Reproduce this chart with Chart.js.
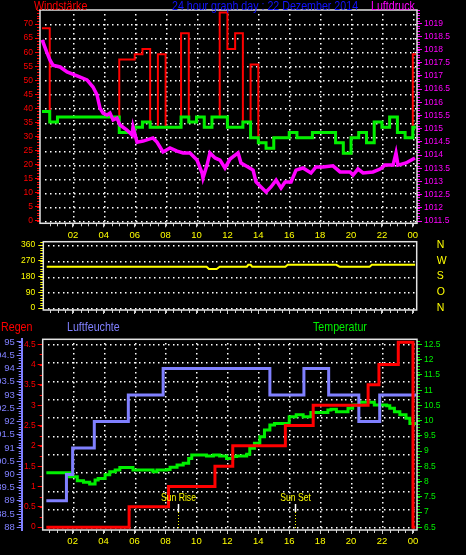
<!DOCTYPE html>
<html>
<head>
<meta charset="utf-8">
<title>24 hour graph day : 22 Dezember 2014</title>
<script src="https://cdn.jsdelivr.net/npm/chart.js@4.4.1/dist/chart.umd.min.js"></script>
<style>
  html, body { margin: 0; padding: 0; background: #000; }
  #wrap { position: relative; width: 466px; height: 555px; overflow: hidden; background: #000; }
  #wrap canvas { position: absolute; left: 0; }
</style>
</head>
<body>
<div id="wrap">
  <canvas id="windChart" width="466" height="245" style="top:0px"></canvas>
  <canvas id="dirChart" width="466" height="90" style="top:230px"></canvas>
  <canvas id="climateChart" width="466" height="240" style="top:315px"></canvas>
</div>
<script>
// --- data (hours of the day, 0 = midnight) ---
const slotHours = Array.from({ length: 49 }, (_, i) => i / 2);   // half-hour slots
const SERIES_END = 24.2;

// wind, km/h (average and gusts per half hour)
const windAvg = [38.9, 35.2, 37.0, 37.0, 37.0, 37.0, 37.0, 37.0, 37.0, 37.0,
                 31.5, 31.5, 33.3, 35.2, 33.3, 33.3, 33.3, 33.3, 37.0, 35.2,
                 37.0, 33.3, 37.0, 37.0, 33.3, 33.3, 35.2, 29.6, 27.8, 25.9,
                 29.6, 29.6, 31.5, 29.6, 29.6, 31.5, 31.5, 31.5, 27.8, 24.1,
                 29.6, 31.5, 27.8, 35.2, 33.3, 37.0, 31.5, 29.6, 33.3];
const windGust = [68.5, 35.2, 37.0, 37.0, 37.0, 37.0, 37.0, 37.0, 37.0, 37.0,
                  57.4, 57.4, 59.3, 61.1, 33.3, 59.3, 33.3, 33.3, 66.7, 35.2,
                  37.0, 33.3, 37.0, 74.1, 61.1, 66.7, 35.2, 55.6, 27.8, 25.9,
                  29.6, 29.6, 31.5, 29.6, 29.6, 31.5, 31.5, 31.5, 27.8, 24.1,
                  29.6, 31.5, 27.8, 35.2, 33.3, 37.0, 31.5, 29.6, 59.3];

// pressure, hPa
const pressureHours = [0, 0.06, 0.3, 0.52, 0.71, 1.17, 1.62, 2.27, 2.91, 3.3,
                       3.56, 3.75, 3.95, 4.21, 4.4, 4.6, 4.85, 5.05, 5.5, 5.83,
                       5.89, 6.15, 6.54, 7.18, 7.44, 7.83, 8.28, 8.74, 9.13, 9.58,
                       10.03, 10.36, 10.42, 10.68, 10.87, 11.2, 11.52, 11.84, 12.17, 12.69,
                       12.88, 13.33, 13.66, 13.85, 14.11, 14.5, 14.82, 15.15, 15.47, 15.73,
                       16.12, 16.44, 16.89, 17.41, 17.73, 18.19, 18.83, 19.29, 19.94, 20.13,
                       20.45, 20.78, 21.42, 21.88, 22.2, 22.72, 22.91, 23.04, 23.56, 24.14];
const pressureValues = [1018.36, 1018.29, 1017.91, 1017.6, 1017.41, 1017.34, 1017.15, 1017.0, 1016.85, 1016.58,
                        1016.28, 1015.78, 1015.59, 1015.52, 1015.59, 1015.33, 1015.4, 1015.14, 1014.95, 1014.76,
                        1015.06, 1014.49, 1014.53, 1014.65, 1014.49, 1014.12, 1014.27, 1014.15, 1014.08, 1014.08,
                        1013.81, 1013.32, 1013.13, 1013.62, 1014.08, 1013.89, 1013.81, 1013.51, 1013.85, 1014.08,
                        1013.7, 1013.55, 1013.43, 1012.98, 1012.83, 1012.6, 1012.79, 1013.05, 1012.75, 1012.98,
                        1012.98, 1013.43, 1013.51, 1013.32, 1013.55, 1013.55, 1013.59, 1013.36, 1013.36, 1013.24,
                        1013.47, 1013.32, 1013.36, 1013.47, 1013.62, 1013.62, 1014.08, 1013.62, 1013.7, 1013.89];

// wind direction, degrees
const dirHours = [0.3, 10.65, 10.8, 11.3, 11.5, 13.25, 13.35, 13.5, 13.6, 15.75, 15.9, 19.05, 19.25, 21.2, 21.35, 24.15];
const dirValues = [236, 236, 223, 223, 236, 236, 247, 247, 236, 236, 247, 247, 236, 236, 247, 247];

// humidity %, rain mm, temperature °C
const humidityHours = [0.3, 1.6, 2.0, 3.4, 5.6, 7.85, 14.75, 16.95, 18.55, 20.5, 21.85, 24.2];
const humidityValues = [89, 90, 91, 92, 93, 94, 93, 94, 93, 92, 93, 93];
const rainHours = [0.3, 5.65, 8.2, 11.2, 12.35, 15.75, 17.55, 21.1, 21.8, 23.05, 24.0, 24.15];
const rainValues = [0, 0.5, 1.0, 1.5, 2.0, 2.5, 3.0, 3.5, 4.0, 4.55, 0, 0];
const tempHours = [0.3, 1.8, 2.3, 2.7, 3.1, 3.45, 3.65, 4.1, 4.4, 4.75,
                   5.05, 5.9, 7.2, 7.45, 8.1, 8.3, 8.75, 9.15, 9.5, 9.7,
                   10.65, 11.1, 11.5, 11.95, 12.35, 12.6, 13.25, 13.45, 13.75, 14.1,
                   14.4, 14.75, 15.05, 16.0, 16.45, 16.9, 17.4, 18.5, 18.7, 19.05,
                   19.8, 20.1, 20.55, 21.5, 22.3, 22.5, 22.8, 23.15, 23.55, 23.8, 24.2];
const tempValues = [8.29, 8.16, 8.03, 7.98, 7.92, 8.05, 8.1, 8.22, 8.32, 8.38,
                    8.46, 8.38, 8.32, 8.38, 8.4, 8.47, 8.54, 8.6, 8.76, 8.87,
                    8.84, 8.87, 8.84, 8.76, 8.82, 8.84, 8.9, 9.09, 9.26, 9.47,
                    9.69, 9.86, 9.91, 10.13, 10.19, 10.13, 10.27, 10.35, 10.37, 10.29,
                    10.41, 10.51, 10.6, 10.51, 10.49, 10.41, 10.29, 10.19, 10.08, 9.91, 9.91];
const sunHours = [8.78, 16.38];
const sunLabels = ['Sun Rise', 'Sun Set'];

// tick labels
const hourTicks = [2, 4, 6, 8, 10, 12, 14, 16, 18, 20, 22, 24];
const hourLabels = ['02', '04', '06', '08', '10', '12', '14', '16', '18', '20', '22', '00'];
const windTicks = [0, 5, 10, 15, 20, 25, 30, 35, 40, 45, 50, 55, 60, 65, 70];
const pressureTicks = [1011.5, 1012, 1012.5, 1013, 1013.5, 1014, 1014.5, 1015, 1015.5,
                       1016, 1016.5, 1017, 1017.5, 1018, 1018.5, 1019];
const dirTicks = [0, 90, 180, 270, 360];
const compassLabels = ['N', 'O', 'S', 'W', 'N'];
const humidityTicks = [88, 88.5, 89, 89.5, 90, 90.5, 91, 91.5, 92, 92.5, 93, 93.5, 94, 94.5, 95];
const rainTicks = [0, 0.5, 1, 1.5, 2, 2.5, 3, 3.5, 4, 4.5];
const tempTicks = [6.5, 7, 7.5, 8, 8.5, 9, 9.5, 10, 10.5, 11, 11.5, 12, 12.5];

// --- style ---
const RED = '#ff0000', GREEN = '#00f000', MAGENTA = '#ff00ff', BLUE = '#1414ff',
      LAVENDER = '#8080ff', YELLOW = '#ffff00', FRAME = '#e2e2e2', DOT = '#ffffff';
const SANS = '"Liberation Sans", Arial, sans-serif';
const tickFont = { family: SANS, size: 8.5 };

function points(xs, ys, end) {
  const pts = xs.map((x, i) => ({ x, y: ys[i] }));
  if (end !== undefined) pts.push({ x: end, y: ys[ys.length - 1] });
  return pts;
}

// fixed axis size, no extra room for overhanging labels
function fixSize(s, key, size) {
  s[key] = size;
  s.paddingTop = s.paddingBottom = s.paddingLeft = s.paddingRight = 0;
}

function valueAxis(position, min, max, tickValues, color, width, opts = {}) {
  return {
    type: 'linear', position, min, max,
    weight: opts.weight || 0,
    afterBuildTicks: s => { s.ticks = tickValues.map(v => ({ value: v })); },
    afterFit: s => fixSize(s, 'width', width),
    ticks: {
      color, font: opts.font || tickFont, padding: opts.padding ?? 2, autoSkip: false,
      callback: opts.labels ? (v, i) => opts.labels[i] : v => String(v)
    },
    grid: { drawOnChartArea: false, drawTicks: !opts.noTicks, tickLength: 5, tickColor: color, tickWidth: 1 },
    border: { display: !!opts.border, color, width: 2 }
  };
}

function hourAxis(min, max, height, showLabels) {
  return {
    type: 'linear', position: 'bottom', min, max,
    afterBuildTicks: s => { s.ticks = hourTicks.map(v => ({ value: v })); },
    afterFit: s => fixSize(s, 'height', height),
    ticks: {
      display: showLabels, color: YELLOW, font: { family: SANS, size: 9.5 },
      padding: 2, autoSkip: false, maxRotation: 0, callback: (v, i) => hourLabels[i]
    },
    grid: { drawOnChartArea: false, tickLength: 4, tickColor: '#d0d0d0' },
    border: { display: false }
  };
}

// dotted grid, minor ticks and the white frame of each panel
const panelPlugin = {
  id: 'panel',
  beforeDatasetsDraw(chart, args, o) {
    const { ctx, chartArea: a, scales } = chart;
    ctx.save();
    ctx.fillStyle = DOT;
    const rowScale = scales[o.rowAxis];
    o.rows.forEach(v => {
      const y = Math.round(rowScale.getPixelForValue(v));
      for (let x = a.left + 5; x < a.right - 2; x += 4.8) ctx.fillRect(Math.round(x), y, 1.5, 1.5);
    });
    if (o.cols) {
      o.cols.forEach(h => {
        const x = Math.round(scales.x.getPixelForValue(h));
        for (let y = a.top + 4; y < a.bottom - 2; y += 4.8) ctx.fillRect(x, Math.round(y), 1.5, 1.5);
      });
    }
    ctx.lineWidth = 1;
    o.minor.forEach(m => {
      const s = scales[m.axis];
      const left = s.position === 'left';
      const edge = left ? s.right : s.left;
      ctx.strokeStyle = m.color;
      ctx.beginPath();
      const n = Math.round((m.to - m.from) / m.step);
      for (let i = 0; i <= n; i++) {
        const y = Math.round(s.getPixelForValue(m.from + i * m.step)) + 0.5;
        if (y < a.top - 1 || y > a.bottom + 1) continue;
        ctx.moveTo(edge, y);
        ctx.lineTo(edge + (left ? -3 : 3), y);
      }
      ctx.stroke();
    });
    // half-hour ticks under the time axis
    ctx.strokeStyle = '#d0d0d0';
    ctx.beginPath();
    for (let i = 1; i <= 48; i++) {
      const x = Math.round(scales.x.getPixelForValue(i / 2)) + 0.5;
      ctx.moveTo(x, a.bottom);
      ctx.lineTo(x, a.bottom + 3);
    }
    ctx.stroke();
    ctx.strokeStyle = FRAME;
    ctx.lineWidth = 1.5;
    ctx.strokeRect(a.left, a.top, a.right - a.left, a.bottom - a.top);
    ctx.restore();
  }
};

// narrow caption text (the original uses a condensed face)
function narrowText(ctx, text, x, y, size, align) {
  ctx.save();
  ctx.font = size + 'px ' + SANS;
  ctx.textAlign = align || 'left';
  ctx.translate(x, y);
  ctx.scale(0.82, 1);
  ctx.fillText(text, 0, 0);
  ctx.restore();
}

const captionPlugin = {
  id: 'captions',
  afterDraw(chart, args, o) {
    const ctx = chart.ctx;
    o.items.forEach(it => {
      ctx.fillStyle = it.color;
      narrowText(ctx, it.text, it.x, it.y, 13);
    });
  }
};

const sunPlugin = {
  id: 'sunMarks',
  afterDatasetsDraw(chart) {
    const { ctx, chartArea: a, scales: { x } } = chart;
    ctx.save();
    sunHours.forEach((h, i) => {
      const px = Math.round(x.getPixelForValue(h)) + 0.5;
      ctx.fillStyle = YELLOW;
      narrowText(ctx, sunLabels[i], px, a.bottom - 29, 10.5, 'center');
      ctx.strokeStyle = '#ffffff';
      ctx.lineWidth = 1.5;
      ctx.beginPath(); ctx.moveTo(px, a.bottom - 26); ctx.lineTo(px, a.bottom - 18); ctx.stroke();
      ctx.strokeStyle = YELLOW;
      ctx.lineWidth = 1;
      ctx.setLineDash([1, 2]);
      ctx.beginPath(); ctx.moveTo(px, a.bottom - 18); ctx.lineTo(px, a.bottom); ctx.stroke();
      ctx.setLineDash([]);
    });
    ctx.restore();
  }
};

const common = {
  responsive: false,
  animation: false,
  events: [],
  elements: { point: { radius: 0 }, line: { tension: 0 } }
};
const quiet = { legend: { display: false }, tooltip: { enabled: false } };

// 1. wind speed and pressure
new Chart(document.getElementById('windChart'), {
  type: 'line',
  data: {
    datasets: [
      { data: points(pressureHours, pressureValues), yAxisID: 'press', borderColor: MAGENTA, borderWidth: 3.5, order: 1 },
      { data: points(slotHours, windAvg, SERIES_END), yAxisID: 'wind', borderColor: GREEN, borderWidth: 3, stepped: true, order: 2 },
      { data: points(slotHours, windGust, SERIES_END), yAxisID: 'wind', borderColor: RED, borderWidth: 2, stepped: true, order: 3 }
    ]
  },
  options: {
    ...common,
    layout: { padding: { top: 10, left: 0, right: 0, bottom: 0 } },
    scales: {
      x: hourAxis(-0.13, 24.27, 21.7, true),
      wind: valueAxis('left', -0.82, 75, windTicks, RED, 40),
      press: valueAxis('right', 1011.413, 1019.5, pressureTicks, MAGENTA, 49)
    },
    plugins: {
      ...quiet,
      panel: {
        rowAxis: 'wind', rows: windTicks, cols: hourTicks,
        minor: [
          { axis: 'wind', from: 0, to: 75, step: 1, color: RED },
          { axis: 'press', from: 1011.5, to: 1019.5, step: 0.1, color: MAGENTA }
        ]
      },
      captions: {
        items: [
          { text: 'Windstärke', x: 34, y: 10, color: RED },
          { text: '24 hour graph day : 22 Dezember 2014', x: 172, y: 10, color: BLUE },
          { text: 'Luftdruck', x: 371, y: 10, color: MAGENTA }
        ]
      }
    }
  },
  plugins: [panelPlugin, captionPlugin]
});

// 2. wind direction
new Chart(document.getElementById('dirChart'), {
  type: 'line',
  data: {
    datasets: [
      { data: points(dirHours, dirValues), yAxisID: 'dir', borderColor: YELLOW, borderWidth: 2 }
    ]
  },
  options: {
    ...common,
    layout: { padding: { top: 11.7, left: 0, right: 0, bottom: 0 } },
    scales: {
      x: hourAxis(0.08, 24.25, 10, false),
      dir: valueAxis('left', -11.4, 379, dirTicks, YELLOW, 43.3, { padding: 3 }),
      compass: valueAxis('right', -11.4, 379, dirTicks, YELLOW, 49.3,
        { labels: compassLabels, noTicks: true, padding: 20, font: { family: SANS, size: 10.5 } })
    },
    plugins: {
      ...quiet,
      panel: {
        rowAxis: 'dir', rows: dirTicks,
        minor: [{ axis: 'dir', from: 0, to: 375, step: 15, color: YELLOW }]
      }
    }
  },
  plugins: [panelPlugin]
});

// 3. rain, humidity, temperature
new Chart(document.getElementById('climateChart'), {
  type: 'line',
  data: {
    datasets: [
      { data: points(rainHours, rainValues), yAxisID: 'rain', borderColor: RED, borderWidth: 3, stepped: true, order: 1 },
      { data: points(humidityHours, humidityValues), yAxisID: 'hum', borderColor: LAVENDER, borderWidth: 3, stepped: true, order: 2 },
      { data: points(tempHours, tempValues), yAxisID: 'temp', borderColor: GREEN, borderWidth: 3, stepped: true, order: 3 }
    ]
  },
  options: {
    ...common,
    layout: { padding: { top: 24.3, left: 0, right: 0, bottom: 0 } },
    scales: {
      x: hourAxis(0.065, 24.26, 25, true),
      rain: valueAxis('left', -0.07, 4.62, rainTicks, RED, 21),
      hum: valueAxis('left', 87.9, 95.1, humidityTicks, LAVENDER, 21.7,
        { weight: 1, border: true, font: { family: SANS, size: 9.5 } }),
      temp: valueAxis('right', 6.41, 12.67, tempTicks, GREEN, 49)
    },
    plugins: {
      ...quiet,
      panel: {
        rowAxis: 'rain', rows: [0, 0.45, 0.9, 1.35, 1.8, 2.25, 2.7, 3.15, 3.6, 4.05, 4.5], cols: hourTicks,
        minor: [
          { axis: 'hum', from: 88, to: 95, step: 0.1, color: LAVENDER },
          { axis: 'rain', from: 0, to: 4.5, step: 0.25, color: RED },
          { axis: 'temp', from: 6.5, to: 12.6, step: 0.1, color: GREEN }
        ]
      },
      captions: {
        items: [
          { text: 'Regen', x: 1, y: 16, color: RED },
          { text: 'Luftfeuchte', x: 67, y: 16, color: LAVENDER },
          { text: 'Temperatur', x: 313, y: 16, color: GREEN }
        ]
      }
    }
  },
  plugins: [panelPlugin, captionPlugin, sunPlugin]
});
</script>
</body>
</html>
